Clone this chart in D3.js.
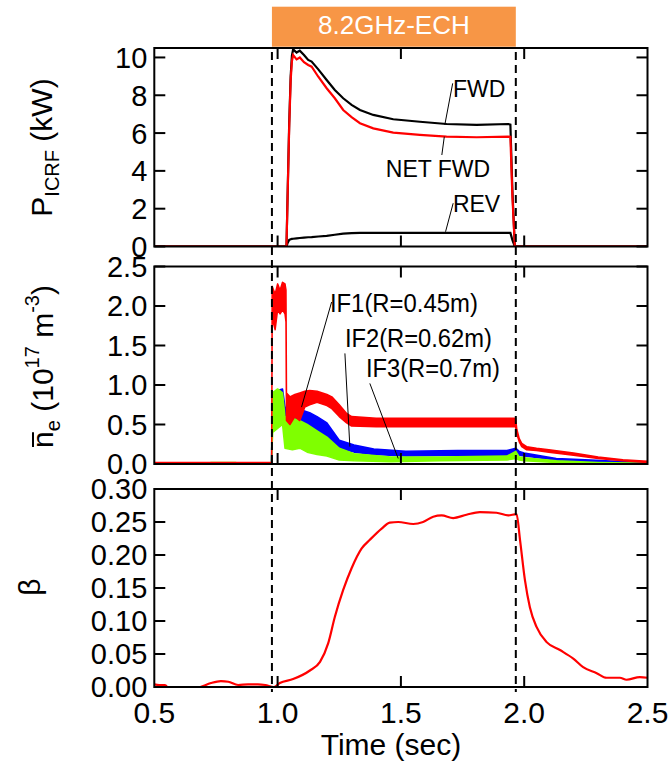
<!DOCTYPE html>
<html><head><meta charset="utf-8">
<script src="https://cdn.jsdelivr.net/npm/d3@7"></script>
<style>body{margin:0;background:#fff} svg{display:block} text{font-family:"Liberation Sans",Arial,sans-serif;fill:#000}</style>
</head><body><svg id="c" width="670" height="767"></svg>
<script>
// ---------- data ----------
const xTickValues = [0.5, 1.0, 1.5, 2.0, 2.5];
const xTickLabels = ["0.5", "1.0", "1.5", "2.0", "2.5"];
const echInterval = [0.977, 1.966];
const echLabel = "8.2GHz-ECH";

// Panel 1: ICRF power (kW)
const pTime = [0.5, 1.036, 1.041, 1.047, 1.053, 1.058, 1.063, 1.077, 1.090, 1.107, 1.124, 1.138, 1.165, 1.199, 1.232, 1.266, 1.300, 1.334, 1.388, 1.469, 1.577, 1.685, 1.807, 1.935, 1.944, 1.952, 1.962, 2.5];
const pFwd  = [0, 0, 3.0, 6.5, 9.0, 10.1, 10.43, 10.26, 10.36, 10.13, 9.87, 9.78, 9.37, 8.81, 8.28, 7.84, 7.49, 7.22, 6.96, 6.73, 6.60, 6.48, 6.43, 6.48, 6.45, 3.0, 0, 0];
const pNet  = [0, 0, 2.9, 6.3, 8.8, 9.8, 10.13, 9.9, 10.0, 9.75, 9.6, 9.51, 8.98, 8.37, 7.84, 7.22, 6.84, 6.52, 6.25, 6.02, 5.90, 5.81, 5.78, 5.81, 5.80, 2.7, 0, 0];
const pRev  = [0, 0, 0.2, 0.35, 0.38, 0.40, 0.41, 0.43, 0.45, 0.47, 0.49, 0.50, 0.53, 0.56, 0.62, 0.68, 0.71, 0.72, 0.72, 0.72, 0.72, 0.72, 0.72, 0.72, 0.72, 0.35, 0, 0];
const pTicks = [0, 2, 4, 6, 8, 10];

// Panel 2: line-averaged density (1e17 m^-3), noisy bands given as low/high envelopes
const if1Time = [0.5, 0.976, 0.978, 0.99, 1.0, 1.01, 1.02, 1.03, 1.034, 1.036, 1.05, 1.07, 1.09, 1.11, 1.13, 1.16, 1.2, 1.22, 1.25, 1.28, 1.3, 1.4, 1.6, 1.8, 1.95, 1.965, 1.97, 1.98, 1.99, 2.01, 2.05, 2.1, 2.2, 2.3, 2.4, 2.5];
const if1Low  = [0.0, 0.0, 1.85, 1.7, 1.95, 1.9, 1.95, 1.9, 1.8, 0.55, 0.5, 0.6, 0.55, 0.72, 0.75, 0.78, 0.74, 0.7, 0.6, 0.52, 0.48, 0.47, 0.47, 0.47, 0.47, 0.47, 0.38, 0.28, 0.22, 0.18, 0.17, 0.15, 0.11, 0.07, 0.04, 0.02];
const if1High = [0.02, 0.02, 2.25, 2.15, 2.28, 2.2, 2.3, 2.28, 2.2, 0.9, 0.85, 0.88, 0.9, 0.92, 0.93, 0.92, 0.88, 0.85, 0.75, 0.64, 0.6, 0.58, 0.58, 0.58, 0.58, 0.58, 0.44, 0.32, 0.26, 0.22, 0.2, 0.18, 0.14, 0.09, 0.055, 0.035];
const if2Time = [0.5, 0.975, 0.98, 1.0, 1.02, 1.03, 1.045, 1.07, 1.1, 1.13, 1.16, 1.2, 1.25, 1.31, 1.39, 1.52, 1.73, 1.93, 1.966, 1.98, 2.0, 2.13, 2.27, 2.47, 2.5];
const if2Low  = [0, 0, 0.75, 0.8, 0.82, 0.55, 0.5, 0.52, 0.5, 0.47, 0.42, 0.34, 0.2, 0.15, 0.12, 0.1, 0.11, 0.11, 0.13, 0.11, 0.1, 0.05, 0.03, 0.01, 0.005];
const if2High = [0.015, 0.015, 0.9, 0.93, 0.95, 0.72, 0.7, 0.7, 0.68, 0.65, 0.6, 0.52, 0.3, 0.24, 0.19, 0.16, 0.17, 0.17, 0.2, 0.16, 0.14, 0.07, 0.05, 0.02, 0.015];
const if3Time = [0.5, 0.72, 0.73, 0.83, 0.84, 0.975, 0.98, 1.0, 1.02, 1.03, 1.06, 1.09, 1.12, 1.16, 1.2, 1.25, 1.31, 1.46, 1.66, 1.93, 1.966, 1.98, 2.0, 2.13, 2.3, 2.5];
const if3Low  = [0, 0, 0, 0, 0, 0, 0.4, 0.45, 0.5, 0.2, 0.18, 0.2, 0.15, 0.12, 0.1, 0.05, 0.04, 0.03, 0.04, 0.05, 0.07, 0.05, 0.04, 0.02, 0.005, 0.0];
const if3High = [0.005, 0.005, 0.02, 0.02, 0.005, 0.005, 0.9, 0.95, 0.9, 0.6, 0.58, 0.55, 0.5, 0.42, 0.34, 0.2, 0.13, 0.09, 0.09, 0.1, 0.16, 0.09, 0.08, 0.04, 0.02, 0.01];
const nTicks = [0, 0.5, 1.0, 1.5, 2.0, 2.5];

// Panel 3: beta
const bTime = [0.5, 0.52, 0.543, 0.56, 0.62, 0.687, 0.73, 0.77, 0.80, 0.84, 0.88, 0.92, 0.95, 0.985, 1.009, 1.063, 1.131, 1.172, 1.205, 1.232, 1.266, 1.300, 1.341, 1.374, 1.422, 1.455, 1.489, 1.550, 1.590, 1.631, 1.665, 1.712, 1.766, 1.820, 1.888, 1.935, 1.969, 1.983, 2.003, 2.023, 2.050, 2.091, 2.145, 2.199, 2.239, 2.294, 2.334, 2.388, 2.415, 2.469, 2.5];
const beta  = [0.004, 0.003, 0.003, -0.003, -0.006, 0.0, 0.006, 0.009, 0.008, 0.003, 0.004, 0.004, 0.003, 0.0, 0.006, 0.012, 0.025, 0.038, 0.066, 0.106, 0.147, 0.180, 0.210, 0.223, 0.240, 0.249, 0.250, 0.247, 0.250, 0.258, 0.260, 0.256, 0.261, 0.265, 0.264, 0.260, 0.262, 0.223, 0.162, 0.121, 0.091, 0.068, 0.056, 0.043, 0.030, 0.021, 0.014, 0.014, 0.011, 0.015, 0.014];
const bTicks = [0, 0.05, 0.10, 0.15, 0.20, 0.25, 0.30];

// annotations: [label, labelTime, labelValue, lineFrom(t,v), lineTo(t,v)]
const pAnnot = [
  ["FWD", 1.711, 7.93, [1.710, 8.63], [1.678, 6.43]],
  ["NET FWD", 1.439, 3.69, [1.666, 4.84], [1.676, 5.81]],
  ["REV", 1.711, 1.84, [1.712, 2.29], [1.681, 0.78]]
];
const nAnnot = [
  ["IF1(R=0.45m)", 1.212, 1.92, [1.219, 2.05], [1.097, 0.72], 148],
  ["IF2(R=0.62m)", 1.273, 1.477, [1.273, 1.40], [1.293, 0.22], 147],
  ["IF3(R=0.7m)", 1.358, 1.098, [1.374, 1.02], [1.489, 0.07], 134]
];

// ---------- drawing ----------
const svg = d3.select("#c");
const L = 154.3, R = 647.5;
const x = d3.scaleLinear().domain([0.5, 2.5]).range([L, R]);
const yP = d3.scaleLinear().domain([0, 10.5]).range([246.5, 48]);
const yN = d3.scaleLinear().domain([0, 2.5]).range([464, 266.5]);
const yB = d3.scaleLinear().domain([0, 0.3]).range([687, 489]);
const TL = 11;
const TICK_FS = 29;

// ECH box
svg.append("rect").attr("x", x(echInterval[0])).attr("y", 6.7)
  .attr("width", x(echInterval[1]) - x(echInterval[0])).attr("height", 40)
  .attr("fill", "#F79646");
svg.append("text").attr("x", (x(echInterval[0]) + x(echInterval[1])) / 2).attr("y", 34)
  .attr("text-anchor", "middle").attr("font-size", 26).style("fill", "#fff").text(echLabel);

function panel(id, y, ticks, fmt) {
  const g = svg.append("g");
  const [y0, y1] = y.range();
  svg.append("clipPath").attr("id", id).append("rect")
    .attr("x", L).attr("y", y1).attr("width", R - L).attr("height", y0 - y1);
  const plot = g.append("g").attr("clip-path", `url(#${id})`);
  return {g, plot, y, ticks, fmt, y0, y1};
}
function frame(p, showX) {
  const {g, y, ticks, fmt, y0, y1} = p;
  g.append("rect").attr("x", L).attr("y", y1).attr("width", R - L).attr("height", y0 - y1)
    .attr("fill", "none").attr("stroke", "#000").attr("stroke-width", 2);
  ticks.forEach(v => {
    g.append("line").attr("x1", L).attr("x2", L + TL).attr("y1", y(v)).attr("y2", y(v)).attr("stroke", "#000").attr("stroke-width", 2);
    g.append("line").attr("x1", R).attr("x2", R - TL).attr("y1", y(v)).attr("y2", y(v)).attr("stroke", "#000").attr("stroke-width", 2);
    g.append("text").attr("x", L - 7).attr("y", y(v)).attr("dy", "0.36em").attr("text-anchor", "end")
      .attr("font-size", TICK_FS).text(fmt(v));
  });
  xTickValues.slice(1, -1).forEach(t => {
    g.append("line").attr("x1", x(t)).attr("x2", x(t)).attr("y1", y0).attr("y2", y0 - TL).attr("stroke", "#000").attr("stroke-width", 2);
    g.append("line").attr("x1", x(t)).attr("x2", x(t)).attr("y1", y1).attr("y2", y1 + TL).attr("stroke", "#000").attr("stroke-width", 2);
  });
  if (showX) {
    xTickValues.forEach((t, i) => {
      g.append("text").attr("x", x(t)).attr("y", 723).attr("text-anchor", "middle").attr("font-size", 30).text(xTickLabels[i]);
    });
  }
}

// Panel 1
const p1 = panel("c1", yP, pTicks, d3.format("d"));
const line1 = (vals) => d3.line().x((d, i) => x(pTime[i])).y((d) => yP(d))(vals);
p1.plot.append("path").attr("d", line1(pFwd)).attr("fill", "none").attr("stroke", "#000").attr("stroke-width", 2.2);
p1.plot.append("path").attr("d", line1(pRev)).attr("fill", "none").attr("stroke", "#000").attr("stroke-width", 2.2);
p1.plot.append("path").attr("d", line1(pNet)).attr("fill", "none").attr("stroke", "#f00").attr("stroke-width", 2.2);
frame(p1, false);
pAnnot.forEach(a => {
  p1.g.append("line").attr("x1", x(a[3][0])).attr("y1", yP(a[3][1])).attr("x2", x(a[4][0])).attr("y2", yP(a[4][1]))
    .attr("stroke", "#000").attr("stroke-width", 1);
  p1.g.append("text").attr("x", x(a[1])).attr("y", yP(a[2])).attr("font-size", 23).text(a[0]);
});

// Panel 2
const p2 = panel("c2", yN, nTicks, d3.format(".1f"));
function band(times, lo, hi, color) {
  const idx = d3.range(times.length);
  const area = d3.area().x(i => x(times[i])).y0(i => yN(lo[i])).y1(i => yN(hi[i]));
  p2.plot.append("path").attr("d", area(idx)).attr("fill", color).attr("stroke", color).attr("stroke-width", 1.5).attr("stroke-linejoin", "round");
}
band(if2Time, if2Low, if2High, "#0000ff");
band(if3Time, if3Low, if3High, "#7fff00");
band(if1Time, if1Low, if1High, "#ff0000");
frame(p2, false);
nAnnot.forEach(a => {
  p2.g.append("line").attr("x1", x(a[3][0])).attr("y1", yN(a[3][1])).attr("x2", x(a[4][0])).attr("y2", yN(a[4][1]))
    .attr("stroke", "#000").attr("stroke-width", 1);
  p2.g.append("text").attr("x", x(a[1])).attr("y", yN(a[2])).attr("font-size", 25)
    .attr("textLength", a[5]).attr("lengthAdjust", "spacingAndGlyphs").text(a[0]);
});

// Panel 3
const p3 = panel("c3", yB, bTicks, d3.format(".2f"));
p3.plot.append("path").attr("d", d3.line().x((d, i) => x(bTime[i])).y(d => yB(d)).curve(d3.curveMonotoneX)(beta))
  .attr("fill", "none").attr("stroke", "#f00").attr("stroke-width", 2.2);
frame(p3, true);

// dashed ECH markers
echInterval.forEach(t => {
  svg.append("line").attr("x1", x(t)).attr("x2", x(t)).attr("y1", 52).attr("y2", 692)
    .attr("stroke", "#000").attr("stroke-width", 2).attr("stroke-dasharray", "8,5");
});

// axis titles
svg.append("text").attr("x", 391).attr("y", 755).attr("text-anchor", "middle").attr("font-size", 30).text("Time (sec)");

const gy1 = svg.append("g").attr("transform", "translate(52,147.5) rotate(-90)");
const t1 = gy1.append("text").attr("text-anchor", "middle").attr("font-size", 30);
t1.append("tspan").text("P");
t1.append("tspan").attr("font-size", 20).attr("dy", 7).text("ICRF");
t1.append("tspan").attr("dy", -7).text(" (kW)");

const gy2 = svg.append("g").attr("transform", "translate(53,366.5) rotate(-90)");
const t2 = gy2.append("text").attr("text-anchor", "middle").attr("font-size", 30);
t2.append("tspan").text("n");
t2.append("tspan").attr("font-size", 20).attr("dy", 7).text("e");
t2.append("tspan").attr("dy", -7).text(" (10");
t2.append("tspan").attr("font-size", 20).attr("dy", -14).text("17");
t2.append("tspan").attr("dy", 14).text(" m");
t2.append("tspan").attr("font-size", 20).attr("dy", -14).text("-3");
t2.append("tspan").attr("dy", 14).text(")");
const ext = t2.node().getExtentOfChar(0);
gy2.append("line").attr("x1", ext.x + 1).attr("x2", ext.x + ext.width - 1).attr("y1", -20).attr("y2", -20)
  .attr("stroke", "#000").attr("stroke-width", 2);

const gy3 = svg.append("g").attr("transform", "translate(40,587) rotate(-90)");
gy3.append("text").attr("text-anchor", "middle").attr("font-size", 30).text("β");
</script></body></html>
